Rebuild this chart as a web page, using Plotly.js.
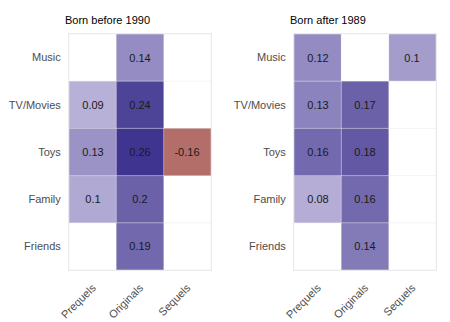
<!DOCTYPE html>
<html><head><meta charset="utf-8">
<script src="https://cdn.plot.ly/plotly-3.0.1.min.js"></script>
<style>html,body{margin:0;padding:0;background:#fff}#chart{width:450px;height:322px}</style>
</head><body><div id="chart"></div>
<script>
const columns = ["Prequels", "Originals", "Sequels"];
const rows = ["Music", "TV/Movies", "Toys", "Family", "Friends"];
const panelTitles = ["Born before 1990", "Born after 1989"];
const before1990 = [
  [null, 0.14, null],
  [0.09, 0.24, null],
  [0.13, 0.26, -0.16],
  [0.1, 0.2, null],
  [null, 0.19, null]
];
const after1989 = [
  [0.12, null, 0.1],
  [0.13, 0.17, null],
  [0.16, 0.18, null],
  [0.08, 0.16, null],
  [null, 0.14, null]
];
const panelLimits = [0.27, 0.23];

const colorscale = [[0, '#851406'], [0.5, '#f7f1fc'], [1, '#382e8c']];
const font = 'Liberation Sans, Arial, sans-serif';
const xIdx = columns.map((c, i) => i);
const yIdx = rows.map((r, i) => i);
const xBounds = [-0.5].concat(xIdx.map(i => i + 0.5));
const yBounds = [-0.5].concat(yIdx.map(i => i + 0.5));

function makeTrace(z, lim, n) {
  return {
    type: 'heatmap',
    x: xIdx, y: yIdx, z: z,
    text: z.map(r => r.map(v => v == null ? '' : String(v))),
    texttemplate: '%{text}',
    textfont: {family: font, size: 11, color: '#1a1a1a'},
    colorscale: colorscale, zmin: -lim, zmax: lim,
    showscale: false, xgap: 0, ygap: 0, hoverongaps: false,
    xaxis: n === 1 ? 'x' : 'x2', yaxis: n === 1 ? 'y' : 'y2'
  };
}

function xax(dom) {
  return {
    domain: dom, range: [-0.5, 2.5], tickvals: xIdx, ticktext: columns,
    tickangle: -45, showgrid: false, zeroline: false,
    showline: true, mirror: true, linecolor: '#ebebeb', linewidth: 1,
    ticks: 'outside', ticklen: 6, tickcolor: 'rgba(0,0,0,0)',
    tickfont: {family: font, size: 11, color: '#4d4d4d'},
    automargin: false, fixedrange: true
  };
}
function yax(dom, xa) {
  return {
    domain: dom, range: [4.5, -0.5], tickvals: yIdx, ticktext: rows,
    showgrid: false, zeroline: false,
    showline: true, mirror: true, linecolor: '#ebebeb', linewidth: 1,
    ticks: 'outside', ticklen: 5, tickcolor: 'rgba(0,0,0,0)',
    tickfont: {family: font, size: 11, color: '#4d4d4d'},
    automargin: false, anchor: xa, fixedrange: true
  };
}

// light grid lines drawn over the tiles at the cell boundaries
const shapes = [];
[['x', 'y'], ['x2', 'y2']].forEach(([xr, yr]) => {
  xBounds.forEach(b => shapes.push({type: 'line', xref: xr, yref: yr + ' domain', x0: b, x1: b, y0: 0, y1: 1, line: {color: 'rgba(235,235,235,0.55)', width: 1}, layer: 'above'}));
  yBounds.forEach(b => shapes.push({type: 'line', xref: xr + ' domain', yref: yr, x0: 0, x1: 1, y0: b, y1: b, line: {color: 'rgba(235,235,235,0.55)', width: 1}, layer: 'above'}));
});

const ydom = [1 - 270 / 322, 1 - 34 / 322];
const layout = {
  width: 450, height: 322,
  margin: {l: 0, r: 0, t: 0, b: 0},
  paper_bgcolor: '#fff', plot_bgcolor: '#fff',
  font: {family: font},
  xaxis: Object.assign(xax([69 / 450, 211 / 450]), {anchor: 'y'}),
  yaxis: yax(ydom, 'x'),
  xaxis2: Object.assign(xax([294 / 450, 436 / 450]), {anchor: 'y2'}),
  yaxis2: yax(ydom, 'x2'),
  shapes: shapes,
  annotations: [
    {text: panelTitles[0], xref: 'paper', yref: 'paper', x: 63 / 450, y: 1 - 20 / 322, xanchor: 'left', yanchor: 'middle', showarrow: false, font: {family: font, size: 11, color: '#000'}},
    {text: panelTitles[1], xref: 'paper', yref: 'paper', x: 288 / 450, y: 1 - 20 / 322, xanchor: 'left', yanchor: 'middle', showarrow: false, font: {family: font, size: 11, color: '#000'}}
  ],
  showlegend: false
};

Plotly.newPlot('chart', [makeTrace(before1990, panelLimits[0], 1), makeTrace(after1989, panelLimits[1], 2)], layout, {displayModeBar: false, staticPlot: true});
</script>
</body></html>
